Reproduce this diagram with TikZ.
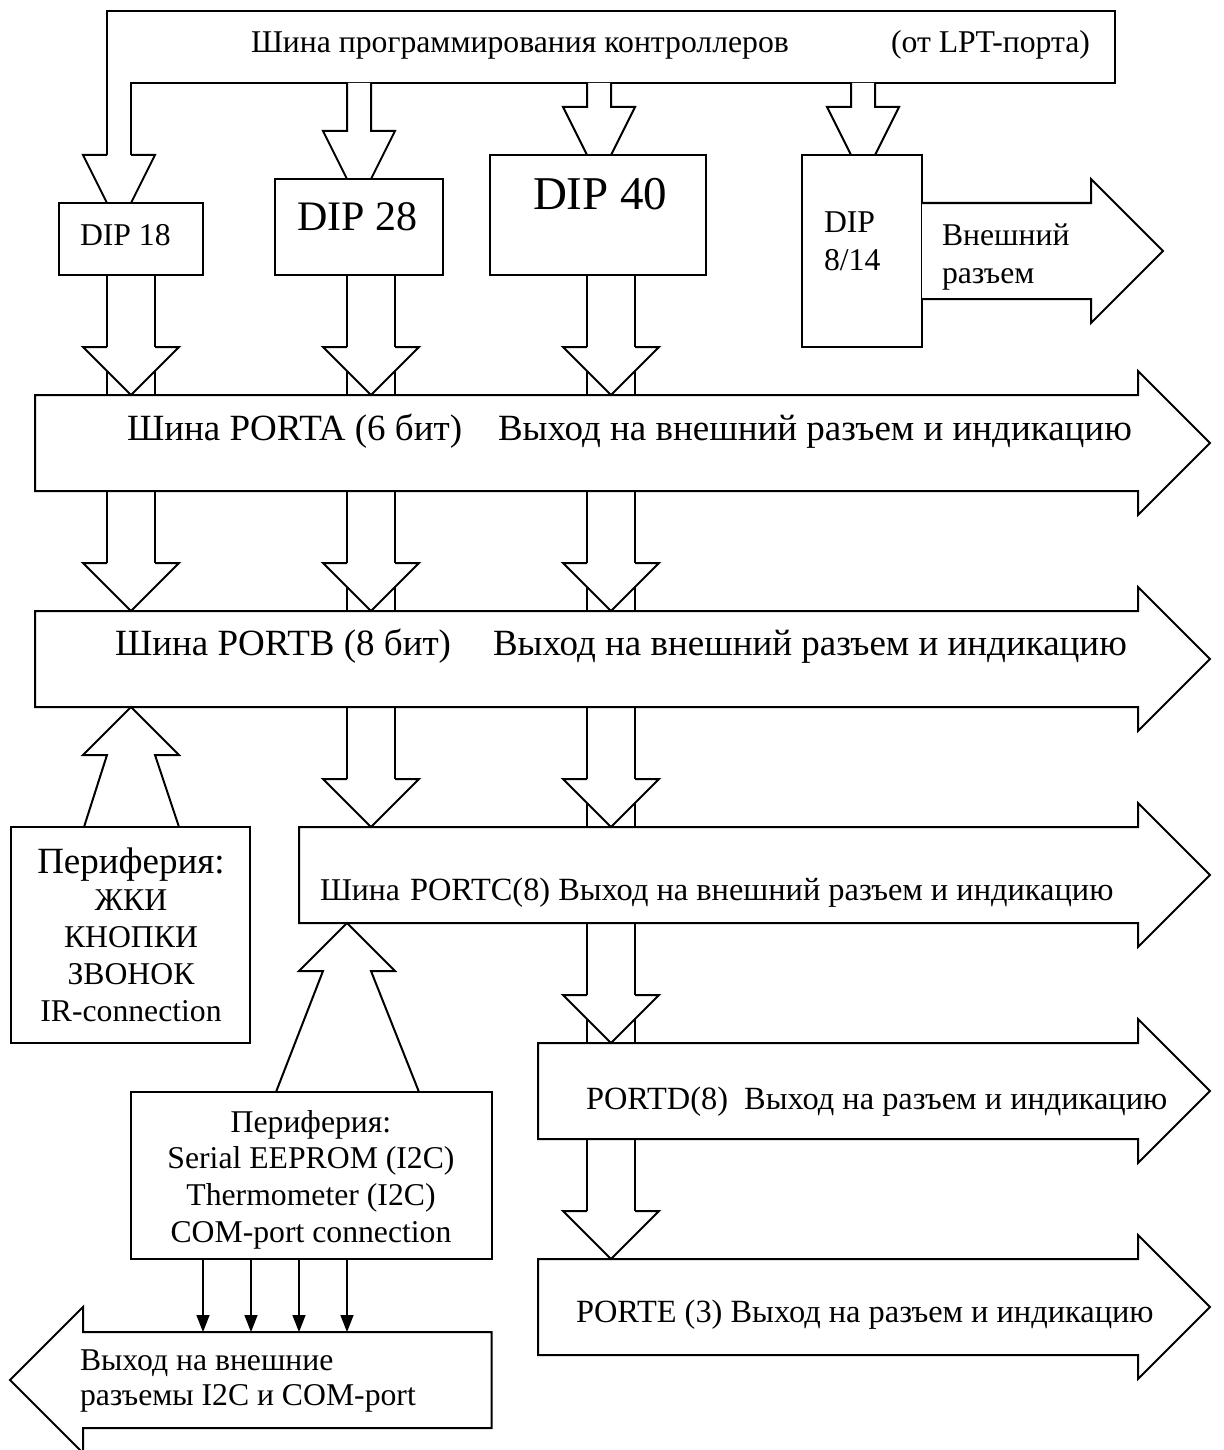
\documentclass[tikz,border=0pt]{standalone}
\usepackage{fontspec}
\setmainfont{Liberation Serif}
\usetikzlibrary{arrows.meta}
\begin{document}
\begin{tikzpicture}[x=1pt,y=-1pt, line width=2pt, line join=miter,
  blk/.style={draw, fill=white},
  txt/.style={anchor=base west, inner sep=0pt, font=\fontsize{31.7}{38}\selectfont},
  ctxt/.style={anchor=base, inner sep=0pt, font=\fontsize{31.7}{38}\selectfont},
  bigtxt/.style={anchor=base west, inner sep=0pt, font=\fontsize{37}{44}\selectfont},
  midtxt/.style={anchor=base west, inner sep=0pt, font=\fontsize{32.4}{39}\selectfont},
  sig/.style={-{Triangle[length=17pt,width=13pt]}, line width=1.6pt}
]
\useasboundingbox[fill=white] (0,0) rectangle (1223,1450);

% ---------- programming bus ----------
\draw[blk] (107,155) -- (107,11) -- (1115,11) -- (1115,83) -- (131,83) -- (131,155);
\draw[blk] (107,155) -- (83,155) -- (119,227) -- (155,155) -- (131,155);
\draw[blk] (347,83) -- (347,131) -- (323,131) -- (359,203) -- (395,131) -- (371,131) -- (371,83);
\draw[blk] (587,83) -- (587,107) -- (563,107) -- (599,179) -- (635,107) -- (611,107) -- (611,83);
\draw[blk] (851,83) -- (851,107) -- (827,107) -- (863,179) -- (899,107) -- (875,107) -- (875,83);
\node[txt] (tprog) at (250,53) {Шина программирования контроллеров};
\node[txt] (tlpt) at (890,53) {(от LPT-порта)};

% ---------- DIP boxes ----------
\draw[blk] (58.5,203) rectangle (203,275);
\draw[blk] (275,179) rectangle (443,275);
\draw[blk] (490,155) rectangle (706,275);
\draw[blk] (802,155) rectangle (922,347);
\node[txt] (d18) at (79,245) {DIP 18};
\node[anchor=base west, inner sep=0pt, font=\fontsize{42}{50}\selectfont] (d28) at (296,230) {DIP 28};
\node[anchor=base west, inner sep=0pt, font=\fontsize{47}{56}\selectfont] (d40) at (532,210) {DIP 40};
\node[txt] (d8a) at (823,233) {DIP};
\node[txt] (d8b) at (823,270) {8/14};

% external connector arrow
\draw[blk] (922,203) -- (1091,203) -- (1091,179) -- (1163,251) -- (1091,323) -- (1091,299) -- (922,299);
\node[txt] (ext1) at (941,245) {Внешний};
\node[txt] (ext2) at (941,283) {разъем};

% ---------- column shafts ----------
\draw (107,275) -- (107,563); \draw (155,275) -- (155,563);
\draw (347,275) -- (347,779); \draw (395,275) -- (395,779);
\draw (587,275) -- (587,1211); \draw (635,275) -- (635,1211);

% ---------- port buses ----------
\draw[blk] (35,395) -- (1138,395) -- (1138,371) -- (1210,443) -- (1138,515) -- (1138,491) -- (35,491) -- cycle;
\draw[blk] (35,611) -- (1138,611) -- (1138,587) -- (1210,659) -- (1138,731) -- (1138,707) -- (35,707) -- cycle;
\draw[blk] (299,827) -- (1138,827) -- (1138,803) -- (1210,875) -- (1138,947) -- (1138,923) -- (299,923) -- cycle;
\draw[blk] (538,1043) -- (1138,1043) -- (1138,1019) -- (1210,1091) -- (1138,1163) -- (1138,1139) -- (538,1139) -- cycle;
\draw[blk] (538,1259) -- (1138,1259) -- (1138,1235) -- (1210,1307) -- (1138,1379) -- (1138,1355) -- (538,1355) -- cycle;

% ---------- arrow heads into buses ----------
\foreach \c/\t in {131/395, 131/611, 371/395, 371/611, 371/827, 611/395, 611/611, 611/827, 611/1043, 611/1259}{
  \draw[blk] (\c-24,\t-48) -- (\c-48,\t-48) -- (\c,\t) -- (\c+48,\t-48) -- (\c+24,\t-48);
}

\node[bigtxt] (pa1) at (126,440) {Шина PORTA (6 бит)};
\node[bigtxt] (pa2) at (497,440) {Выход на внешний разъем и индикацию};
\node[bigtxt] (pb1) at (114,655) {Шина PORTB (8 бит)};
\node[bigtxt] (pb2) at (492,655) {Выход на внешний разъем и индикацию};
\node[txt] (pc1) at (319,900) {Шина};
\node[midtxt] (pc2) at (409,900) {PORTC(8) Выход на внешний разъем и индикацию};
\node[midtxt] (pd) at (585,1109) {PORTD(8)\ \ Выход на разъем и индикацию};
\node[midtxt] (pe) at (575,1322) {PORTE (3) Выход на разъем и индикацию};

% ---------- peripherals ----------
\draw[blk] (84,827) -- (107,755) -- (83,755) -- (131,707) -- (179,755) -- (155,755) -- (179,827);
\draw[blk] (11,827) rectangle (250,1043);
\node[anchor=base, inner sep=0pt, font=\fontsize{37}{44}\selectfont] (p1a) at (131,873) {Периферия:};
\node[ctxt] (p1b) at (131,910) {ЖКИ};
\node[ctxt] (p1c) at (131,947) {КНОПКИ};
\node[ctxt] (p1d) at (131,984) {ЗВОНОК};
\node[ctxt] (p1e) at (131,1021) {IR-connection};

\draw[blk] (276,1092) -- (323,971) -- (299,971) -- (347,923) -- (395,971) -- (371,971) -- (419,1092);
\draw[blk] (130.5,1092) rectangle (491.5,1259);
\node[ctxt] (p2a) at (311,1132) {Периферия:};
\node[ctxt] (p2b) at (311,1168) {Serial EEPROM (I2C)};
\node[ctxt] (p2c) at (311,1205) {Thermometer (I2C)};
\node[ctxt] (p2d) at (311,1242) {COM-port connection};

% ---------- output arrow (left) ----------
\draw[blk] (491.5,1332) -- (83,1332) -- (83,1307) -- (10,1380) -- (83,1453) -- (83,1428) -- (491.5,1428) -- cycle;
\node[txt] (o1) at (79,1370) {Выход на внешние};
\node[txt] (o2) at (79,1405) {разъемы I2C и COM-port};

\foreach \x [count=\i] in {203,251,299,347}{
  \coordinate (s\i) at (\x,1259);
  \coordinate (e\i) at (\x,1332);
  \draw[sig] (s\i) -- (e\i);
}
\end{tikzpicture}
\end{document}
